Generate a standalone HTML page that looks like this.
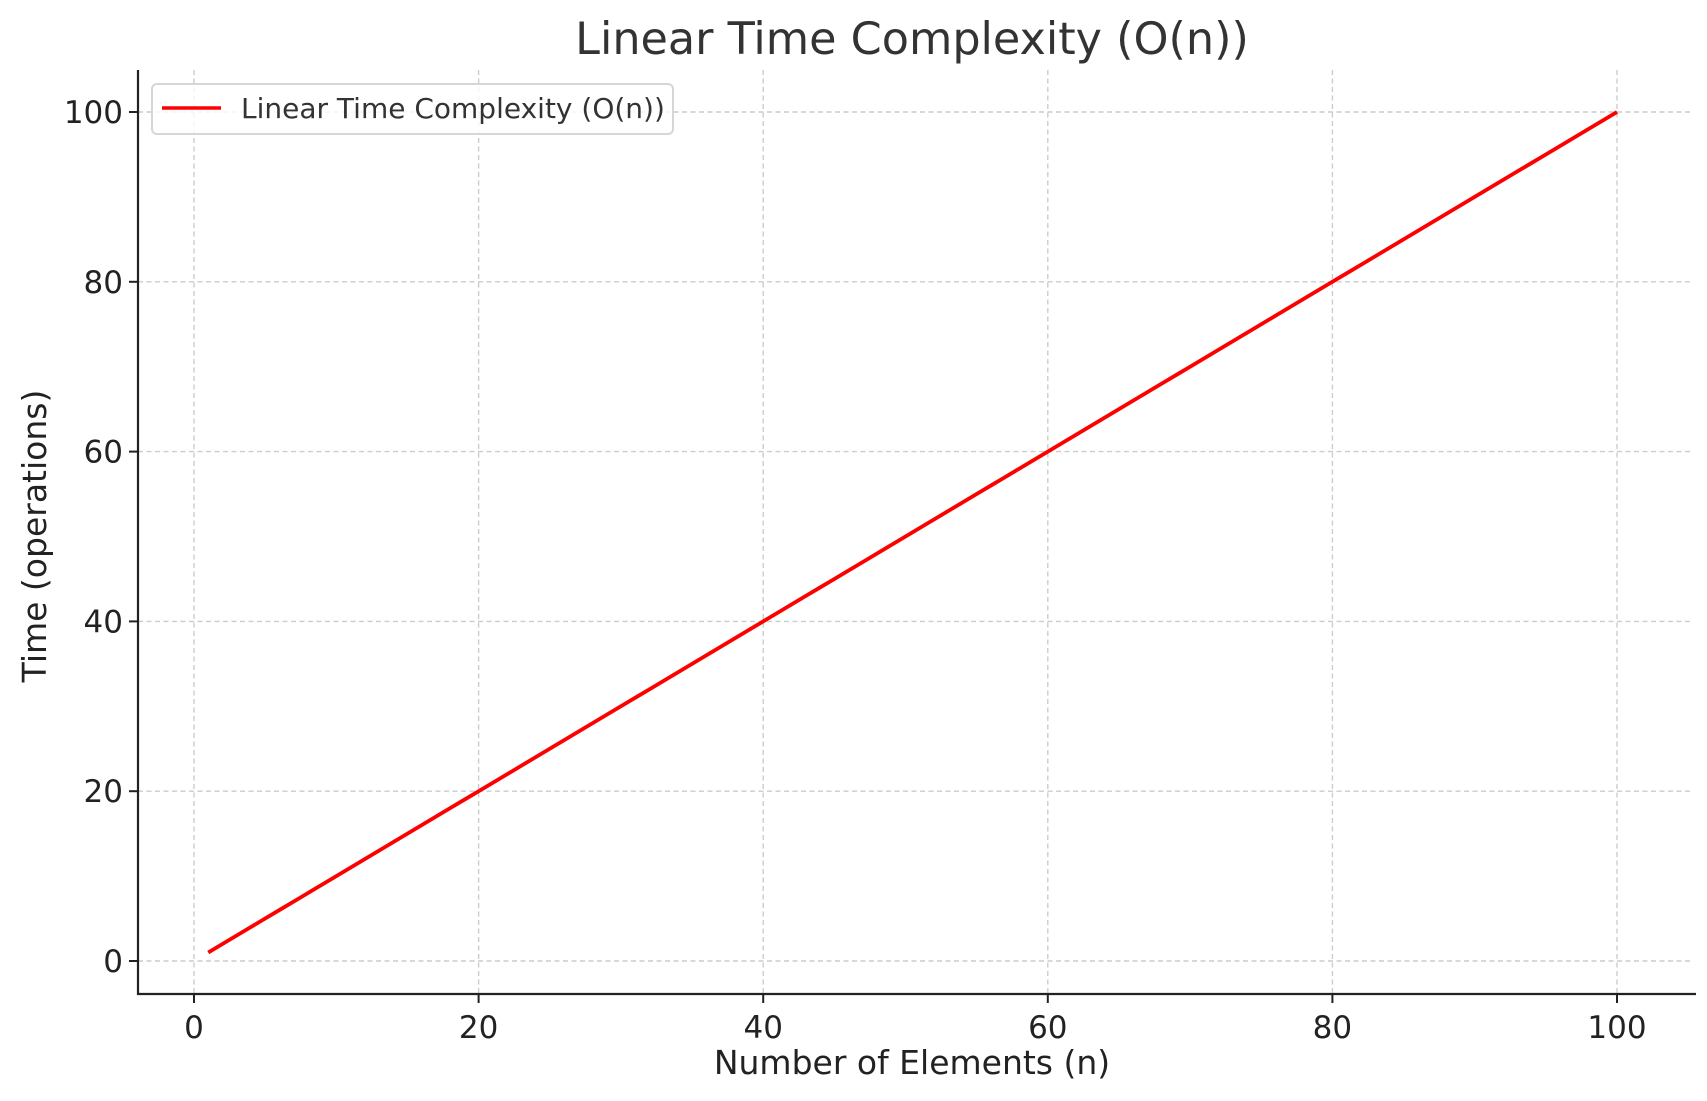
<!DOCTYPE html>
<html><head><meta charset="utf-8"><style>
body{margin:0;background:#fff}
svg{display:block;font-family:"DejaVu Sans","Liberation Sans",sans-serif}
</style></head><body>
<svg id="chart" width="1707" height="1101" viewBox="0 0 1707 1101" xmlns="http://www.w3.org/2000/svg">
<rect width="1707" height="1101" fill="#fff"/>
<g id="grid"></g>
<g id="series"></g>
<g id="axes"></g>
<text x="912" y="54" text-anchor="middle" font-size="44.5" fill="#333">Linear Time Complexity (O(n))</text>
<text x="912" y="1074" text-anchor="middle" font-size="33" fill="#222">Number of Elements (n)</text>
<text transform="translate(46,536) rotate(-90)" text-anchor="middle" font-size="33" fill="#222">Time (operations)</text>
<g>
<rect x="152" y="84" width="521" height="50" rx="5" fill="#fff" fill-opacity="0.8" stroke="#d6d6d6" stroke-width="2"/>
<line x1="162" y1="108" x2="221" y2="108" stroke="#ff0000" stroke-width="3.6"/>
<text x="241" y="118" font-size="28" fill="#333">Linear Time Complexity (O(n))</text>
</g>
</svg>
<script>
const nValues=[1,2,3,4,5,6,7,8,9,10,11,12,13,14,15,16,17,18,19,20,21,22,23,24,25,26,27,28,29,30,31,32,33,34,35,36,37,38,39,40,41,42,43,44,45,46,47,48,49,50,51,52,53,54,55,56,57,58,59,60,61,62,63,64,65,66,67,68,69,70,71,72,73,74,75,76,77,78,79,80,81,82,83,84,85,86,87,88,89,90,91,92,93,94,95,96,97,98,99,100];
const timeValues=[1,2,3,4,5,6,7,8,9,10,11,12,13,14,15,16,17,18,19,20,21,22,23,24,25,26,27,28,29,30,31,32,33,34,35,36,37,38,39,40,41,42,43,44,45,46,47,48,49,50,51,52,53,54,55,56,57,58,59,60,61,62,63,64,65,66,67,68,69,70,71,72,73,74,75,76,77,78,79,80,81,82,83,84,85,86,87,88,89,90,91,92,93,94,95,96,97,98,99,100];
const xTicks=[0,20,40,60,80,100];
const yTicks=[0,20,40,60,80,100];

const NS="http://www.w3.org/2000/svg";
const L=138,R=1696,T=70,B=994,GR=1690;
function sx(v){return 194+(v-0)*(1617-194)/100;}
function sy(v){return 961-(v-0)*(961-112)/100;}
function mk(tag,attrs,parent){const e=document.createElementNS(NS,tag);for(const k in attrs)e.setAttribute(k,attrs[k]);parent.appendChild(e);return e;}
const grid=document.getElementById('grid'),axes=document.getElementById('axes'),series=document.getElementById('series');
xTicks.forEach(t=>{
  const g=mk('line',{x1:sx(t),x2:sx(t),y1:T,y2:B,stroke:'#cccccc','stroke-width':1.4,'stroke-dasharray':'5,3.5'},grid);
  
  
  const tk=mk('line',{x1:sx(t),x2:sx(t),y1:B,y2:B+9,stroke:'#222','stroke-width':2},axes);
  
  
  const lb=mk('text',{x:sx(t),y:B+44,'text-anchor':'middle','font-size':31,fill:'#222'},axes);
  lb.textContent=t;
  
  
});
yTicks.forEach(t=>{
  const g=mk('line',{x1:L,x2:GR,y1:sy(t),y2:sy(t),stroke:'#cccccc','stroke-width':1.4,'stroke-dasharray':'5,3.5'},grid);
  
  
  const tk=mk('line',{x1:L-9,x2:L,y1:sy(t),y2:sy(t),stroke:'#222','stroke-width':2},axes);
  
  
  const lb=mk('text',{x:L-15,y:sy(t)+11,'text-anchor':'end','font-size':31,fill:'#222'},axes);
  lb.textContent=t;
  
  
});
const ls=mk('line',{x1:L,x2:L,y1:T,y2:B+1,stroke:'#222','stroke-width':2.2},axes);


const bs=mk('line',{x1:L-1,x2:R,y1:B,y2:B,stroke:'#222','stroke-width':2.2},axes);


const pts=nValues.map((n,i)=>sx(n).toFixed(2)+','+sy(timeValues[i]).toFixed(2)).join(' ');
const pl=mk('polyline',{points:pts,fill:'none',stroke:'#ff0000','stroke-width':3.8,'stroke-linejoin':'round'},series);


</script>
</body></html>
